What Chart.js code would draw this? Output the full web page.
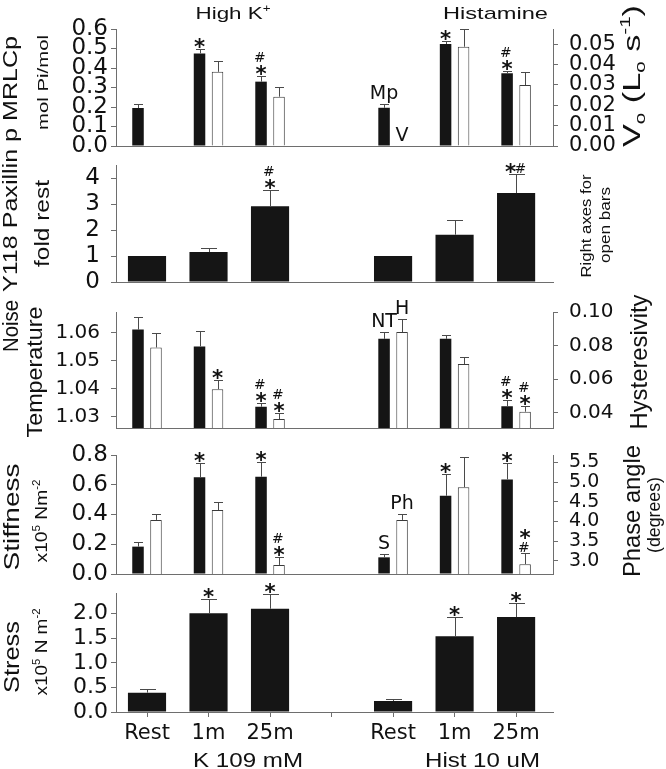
<!DOCTYPE html>
<html>
<head>
<meta charset="utf-8">
<script src="https://cdn.jsdelivr.net/npm/chart.js@4.4.1/dist/chart.umd.min.js"></script>
<style>
html,body{margin:0;padding:0;background:#fff;}
#wrap{position:relative;width:666px;height:769px;overflow:hidden;background:#fff;}
#wrap canvas{position:absolute;left:0;top:0;}
</style>
</head>
<body>
<div id="wrap">
<canvas id="c1" width="666" height="769"></canvas>
<canvas id="c2" width="666" height="769"></canvas>
<canvas id="c3" width="666" height="769"></canvas>
<canvas id="c4" width="666" height="769"></canvas>
<canvas id="c5" width="666" height="769"></canvas>
</div>
<script>
// ---------------- DATA ----------------
const categories = ['Rest', '1m', '25m', '', 'Rest', '1m', '25m'];
const groupLabels = ['K 109 mM', 'Hist 10 uM'];

// Panel 1: p MRLC (black, left axis) and Vo (open, right axis)
const mrlcp      = [0.195, 0.475, 0.330, null, 0.196, 0.523, 0.373];
const mrlcpErr   = [0.018, 0.020, 0.030, null, 0.018, 0.017, 0.013];
const mrlcpMarks = ['', '*', '#|*', '', '', '*', '#|*'];
const mrlcpTags  = ['', '', '', '', 'Mp', '', ''];
const vo         = [null, 0.0364, 0.0242, null, null, 0.0487, 0.0299];
const voErr      = [null, 0.0054, 0.0046, null, null, 0.0087, 0.0062];
const voMarks    = ['', '', '', '', '', '', ''];
const voTags     = ['', '', '', '', 'V', '', ''];
const mrlcpTickLabels = ['0.0', '0.1', '0.2', '0.3', '0.4', '0.5', '0.6'];
const voTickLabels    = ['0.00', '0.01', '0.02', '0.03', '0.04', '0.05'];

// Panel 2: Y118 paxillin (fold rest)
const paxillin      = [1.00, 1.15, 2.91, null, 1.00, 1.82, 3.42];
const paxillinErr   = [0, 0.17, 0.62, null, 0, 0.58, 0.72];
const paxillinMarks = ['', '', '#|*', '', '', '', '*#'];
const paxillinTickLabels = ['0', '1', '2', '3', '4'];

// Panel 3: noise temperature (black, left) and hysteresivity (open, right)
const noiseT      = [1.0612, 1.0552, 1.0336, null, 1.0579, 1.0579, 1.0338];
const noiseTErr   = [0.0045, 0.0055, 0.0014, null, 0.0025, 0.0013, 0.0022];
const noiseTMarks = ['', '', '#|*', '', '', '', '#|*'];
const noiseTTags  = ['', '', '', '', 'NT', '', ''];
const hyst        = [0.0789, 0.0541, 0.0363, null, 0.0881, 0.0690, 0.0407];
const hystErr     = [0.0086, 0.0054, 0.0034, null, 0.0080, 0.0043, 0.0035];
const hystMarks   = ['', '*', '#|*', '', '', '', '#|*'];
const hystTags    = ['', '', '', '', 'H', '', ''];
const noiseTTickLabels = ['1.03', '1.04', '1.05', '1.06'];
const hystTickLabels   = ['0.04', '0.06', '0.08', '0.10'];

// Panel 4: stiffness (black, left) and phase angle (open, right)
const stiffness   = [0.184, 0.650, 0.654, null, 0.112, 0.526, 0.636];
const stiffErr    = [0.033, 0.094, 0.097, null, 0.022, 0.144, 0.108];
const stiffMarks  = ['', '*', '*', '', '', '*', '*'];
const stiffTags   = ['', '', '', '', 'S', '', ''];
const phase       = [4.04, 4.29, 2.90, null, 4.04, 4.87, 2.92];
const phaseErr    = [0.14, 0.20, 0.19, null, 0.14, 0.77, 0.27];
const phaseMarks  = ['', '', '#|*', '', '', '', '*|#'];
const phaseTags   = ['', '', '', '', 'Ph', '', ''];
const stiffTickLabels = ['0.0', '0.2', '0.4', '0.6', '0.8'];
const phaseTickLabels = ['3.0', '3.5', '4.0', '4.5', '5.0', '5.5'];

// Panel 5: stress
const stress      = [0.394, 2.01, 2.10, null, 0.224, 1.54, 1.93];
const stressErr   = [0.07, 0.28, 0.30, null, 0.05, 0.39, 0.29];
const stressMarks = ['', '*', '*', '', '', '*', '*'];
const stressTickLabels = ['0.0', '0.5', '1.0', '1.5', '2.0'];

// ---------------- STYLE / LAYOUT ----------------
const AXIS = '#6e6e6e';
const INK = '#111111';
const BLACK = '#151515';
const TICK_FONT = '"DejaVu Sans", sans-serif';
const TITLE_FONT = '"Liberation Sans", Arial, sans-serif';
const X_MIN = -0.504, X_MAX = 6.6;
const H = 769, LEFT_W = 116, RIGHT_W = 113;

Chart.defaults.font.family = TICK_FONT;
Chart.defaults.color = INK;

// ---------- text helpers ----------
function drawRich(ctx, t) {
  ctx.save();
  ctx.fillStyle = INK;
  ctx.textAlign = 'left';
  ctx.textBaseline = 'alphabetic';
  let total = 0;
  const parts = t.segs.map(s => {
    const sz = (s.sup || s.sub) ? t.size * 0.6 : t.size;
    ctx.font = sz + 'px ' + TITLE_FONT;
    const w = ctx.measureText(s.t).width;
    total += w;
    return {s, sz, w};
  });
  const k = t.len ? t.len / total : 1;
  ctx.translate(t.x, t.y);
  if (t.rot) ctx.rotate(t.rot * Math.PI / 180);
  ctx.scale(k, 1);
  let cx = -total / 2;
  parts.forEach(p => {
    ctx.font = p.sz + 'px ' + TITLE_FONT;
    const dy = p.s.sup ? -t.size * 0.42 : (p.s.sub ? t.size * 0.22 : 0);
    ctx.fillText(p.s.t, cx, dy);
    cx += p.w;
  });
  ctx.restore();
}

function drawGlyph(ctx, ch, x, yc, inkH) {
  const weight = ch === '*' ? 'bold ' : '';
  ctx.font = weight + '100px ' + TICK_FONT;
  const m = ctx.measureText(ch);
  const h = (m.actualBoundingBoxAscent + m.actualBoundingBoxDescent) || 50;
  const size = 100 * inkH / h;
  ctx.font = weight + size + 'px ' + TICK_FONT;
  const m2 = ctx.measureText(ch);
  const base = yc + (m2.actualBoundingBoxAscent - m2.actualBoundingBoxDescent) / 2;
  const xc = x - (m2.actualBoundingBoxRight - m2.actualBoundingBoxLeft) / 2 + m2.actualBoundingBoxLeft;
  ctx.textAlign = 'left';
  ctx.textBaseline = 'alphabetic';
  ctx.fillStyle = INK;
  ctx.fillText(ch, xc, base);
}

function drawMarks(ctx, spec, x, yTop) {
  if (!spec) return;
  if (spec.indexOf('|') >= 0) {
    const parts = spec.split('|').reverse();
    let yc = yTop - 7;
    parts.forEach(p => { drawGlyph(ctx, p, x, yc, 10); yc -= 12.5; });
  } else if (spec.length > 1) {
    const n = spec.length;
    spec.split('').forEach((p, k) => drawGlyph(ctx, p, x + (k - (n - 1) / 2) * 11, yTop - 7, 10));
  } else {
    drawGlyph(ctx, spec, x, yTop - 7, 10);
  }
}

function drawTag(ctx, tag, x, yc) {
  const size = 19;
  ctx.font = size + 'px ' + TICK_FONT;
  ctx.textAlign = 'center';
  ctx.textBaseline = 'alphabetic';
  ctx.fillStyle = INK;
  ctx.fillText(tag, x, yc + 0.365 * size);
}

// ---------- plugins ----------
const barExtras = {
  id: 'barExtras',
  afterDatasetsDraw(chart) {
    const ctx = chart.ctx;
    chart.data.datasets.forEach((ds, di) => {
      const meta = chart.getDatasetMeta(di);
      const ys = chart.scales[ds.yAxisID];
      meta.data.forEach((el, i) => {
        const v = ds.data[i].y;
        const err = ds.errors ? ds.errors[i] : null;
        let top = null;
        if (v !== null && v !== undefined) {
          top = el.y;
          if (err) {
            const ye = Math.round(ys.getPixelForValue(v + err)) + 0.5;
            const xx = Math.round(el.x) + 0.5;
            const cap = el.width > 20 ? 15 : 8;
            ctx.save();
            ctx.strokeStyle = ds.errColor;
            ctx.lineWidth = 1;
            ctx.beginPath();
            ctx.moveTo(xx, top);
            ctx.lineTo(xx, ye);
            ctx.moveTo(Math.round(el.x - cap / 2), ye);
            ctx.lineTo(Math.round(el.x + cap / 2) + 1, ye);
            ctx.stroke();
            ctx.restore();
            top = ye;
          }
        }
        ctx.save();
        if (ds.marks && ds.marks[i] && top !== null) drawMarks(ctx, ds.marks[i], el.x, top);
        if (ds.tags && ds.tags[i]) {
          const yc = top !== null ? top - 12 : chart.chartArea.bottom - 12;
          drawTag(ctx, ds.tags[i], el.x, yc);
        }
        ctx.restore();
      });
    });
  }
};

const titleText = {
  id: 'titleText',
  afterDraw(chart, args, opts) {
    (opts.items || []).forEach(t => drawRich(chart.ctx, t));
  }
};

// ---------- panel factory ----------
function yAxis(pos, ax) {
  const vals = ax.labels.map(Number);
  return {
    type: 'linear',
    position: pos,
    min: ax.min, max: ax.max,
    beginAtZero: false,
    afterBuildTicks: s => { s.ticks = vals.map(v => ({value: v})); },
    afterFit: s => { s.width = pos === 'left' ? LEFT_W : RIGHT_W; },
    grid: {display: true, drawOnChartArea: false, tickLength: 5, color: AXIS, lineWidth: 1},
    border: {display: true, color: AXIS, width: 1, dash: pos === 'left' ? [] : [1, 2]},
    ticks: {
      autoSkip: false, padding: ax.pad, color: INK,
      font: {family: TICK_FONT, size: ax.font},
      callback: (v, i) => ax.labels[i]
    }
  };
}

function makePanel(id, p) {
  const hasOpen = !!p.open;
  const datasets = [{
    label: p.blackName,
    data: p.black.map((v, i) => ({x: i, y: v})),
    yAxisID: 'yL',
    backgroundColor: BLACK,
    borderWidth: 0,
    categoryPercentage: hasOpen ? 0.585 : 0.62,
    barPercentage: hasOpen ? 0.64 : 1.0,
    errors: p.blackErr, marks: p.blackMarks, tags: p.blackTags, errColor: '#4a4a4a'
  }];
  if (hasOpen) {
    datasets.push({
      label: p.openName,
      data: p.open.map((v, i) => ({x: i, y: v})),
      yAxisID: 'yR',
      backgroundColor: '#ffffff',
      borderColor: '#3a3a3a',
      borderWidth: 1,
      categoryPercentage: 0.585,
      barPercentage: 0.64,
      errors: p.openErr, marks: p.openMarks, tags: p.openTags, errColor: '#4a4a4a'
    });
  }
  const scales = {
    x: {
      type: 'linear', min: X_MIN, max: X_MAX, offset: false,
      afterBuildTicks: s => { s.ticks = categories.map((c, i) => ({value: i})); },
      afterFit: s => { s.height = H - p.bottom; },
      grid: {display: !!p.showX, drawOnChartArea: false, tickLength: 5, color: AXIS, offset: false},
      border: {display: true, color: AXIS, width: 1},
      ticks: {
        display: !!p.showX, autoSkip: false, maxRotation: 0, padding: 4, color: INK,
        font: {family: TICK_FONT, size: 21},
        callback: v => categories[Math.round(v)] || ''
      }
    },
    yL: yAxis('left', p.yL)
  };
  if (hasOpen) scales.yR = yAxis('right', p.yR);
  return new Chart(document.getElementById(id), {
    type: 'bar',
    data: {datasets},
    options: {
      responsive: false, animation: false, devicePixelRatio: 1,
      layout: {padding: {top: p.top, right: hasOpen ? 0 : RIGHT_W, left: 0, bottom: 0}},
      plugins: {legend: {display: false}, tooltip: {enabled: false}, titleText: {items: p.titles}},
      scales
    },
    plugins: [barExtras, titleText]
  });
}

// ---------- panels ----------
makePanel('c1', {
  top: 29, bottom: 146,
  blackName: 'p MRLC', black: mrlcp, blackErr: mrlcpErr, blackMarks: mrlcpMarks, blackTags: mrlcpTags,
  openName: 'Vo', open: vo, openErr: voErr, openMarks: voMarks, openTags: voTags,
  yL: {min: 0, max: 0.6, labels: mrlcpTickLabels, font: 23, pad: 3},
  yR: {min: 0, max: 0.0574, labels: voTickLabels, font: 21, pad: 11},
  titles: [
    {segs: [{t: 'High K'}, {t: '+', sup: 1}], x: 233, y: 19, size: 17, len: 75, rot: 0},
    {segs: [{t: 'Histamine'}], x: 495.5, y: 19, size: 17, len: 105, rot: 0},
    {segs: [{t: 'Y118 Paxillin p MRLCp'}], x: 17, y: 164, size: 20, len: 256, rot: -90},
    {segs: [{t: 'mol Pi/mol'}], x: 48, y: 82.5, size: 15, len: 95, rot: -90},
    {segs: [{t: 'V'}, {t: 'o', sub: 1}, {t: ' (L'}, {t: 'o', sub: 1}, {t: ' s'}, {t: '-1', sup: 1}, {t: ')'}],
      x: 640, y: 76, size: 23, len: 142, rot: -90}
  ]
});

makePanel('c2', {
  top: 165, bottom: 282,
  blackName: 'Y118 Paxillin', black: paxillin, blackErr: paxillinErr, blackMarks: paxillinMarks,
  yL: {min: 0, max: 4.5, labels: paxillinTickLabels, font: 23, pad: 11},
  titles: [
    {segs: [{t: 'fold rest'}], x: 49, y: 223.5, size: 21, len: 87, rot: -90},
    {segs: [{t: 'Right axes for'}], x: 591, y: 226, size: 15, len: 103, rot: -90},
    {segs: [{t: 'open bars'}], x: 610, y: 225, size: 15, len: 76, rot: -90}
  ]
});

makePanel('c3', {
  top: 312, bottom: 428,
  blackName: 'Noise Temperature', black: noiseT, blackErr: noiseTErr, blackMarks: noiseTMarks, blackTags: noiseTTags,
  openName: 'Hysteresivity', open: hyst, openErr: hystErr, openMarks: hystMarks, openTags: hystTags,
  yL: {min: 1.026, max: 1.0675, labels: noiseTTickLabels, font: 20, pad: 11},
  yR: {min: 0.031, max: 0.10, labels: hystTickLabels, font: 20, pad: 11},
  titles: [
    {segs: [{t: 'Noise'}], x: 18, y: 326, size: 22, len: 52, rot: -90},
    {segs: [{t: 'Temperature'}], x: 42, y: 372, size: 22, len: 131, rot: -90},
    {segs: [{t: 'Hysteresivity'}], x: 647, y: 362, size: 24, len: 135, rot: -90}
  ]
});

makePanel('c4', {
  top: 455, bottom: 574,
  blackName: 'Stiffness', black: stiffness, blackErr: stiffErr, blackMarks: stiffMarks, blackTags: stiffTags,
  openName: 'Phase angle', open: phase, openErr: phaseErr, openMarks: phaseMarks, openTags: phaseTags,
  yL: {min: 0, max: 0.8, labels: stiffTickLabels, font: 23, pad: 3},
  yR: {min: 2.67, max: 5.685, labels: phaseTickLabels, font: 19, pad: 11},
  titles: [
    {segs: [{t: 'Stiffness'}], x: 19, y: 517, size: 22, len: 107, rot: -90},
    {segs: [{t: 'x10'}, {t: '5', sup: 1}, {t: ' Nm'}, {t: '-2', sup: 1}], x: 47, y: 521, size: 17, len: 83, rot: -90},
    {segs: [{t: 'Phase angle'}], x: 640, y: 511, size: 24, len: 132, rot: -90},
    {segs: [{t: '(degrees)'}], x: 660, y: 515, size: 18, len: 76, rot: -90}
  ]
});

makePanel('c5', {
  top: 593, bottom: 712, showX: true,
  blackName: 'Stress', black: stress, blackErr: stressErr, blackMarks: stressMarks,
  yL: {min: 0, max: 2.42, labels: stressTickLabels, font: 22, pad: 3},
  titles: [
    {segs: [{t: 'Stress'}], x: 19, y: 657, size: 22, len: 72, rot: -90},
    {segs: [{t: 'x10'}, {t: '5', sup: 1}, {t: ' N m'}, {t: '-2', sup: 1}], x: 47, y: 652, size: 17, len: 87, rot: -90},
    {segs: [{t: groupLabels[0]}], x: 248, y: 766.7, size: 21, len: 110, rot: 0},
    {segs: [{t: groupLabels[1]}], x: 482.5, y: 766.7, size: 21, len: 115, rot: 0}
  ]
});
</script>
</body>
</html>
